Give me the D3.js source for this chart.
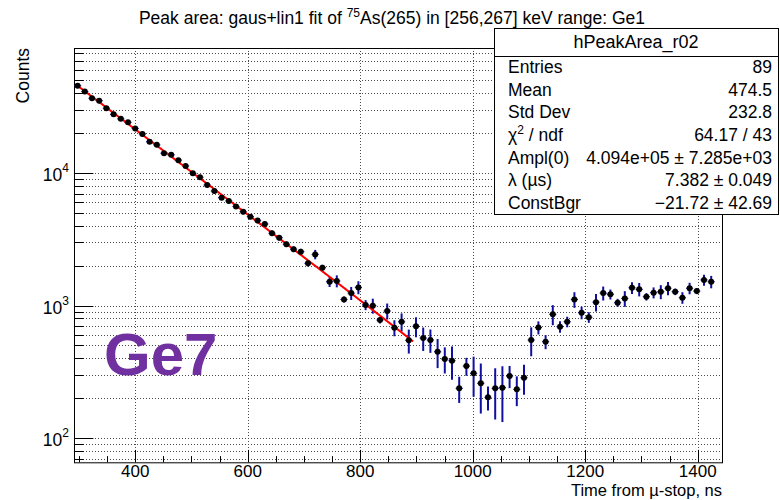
<!DOCTYPE html>
<html>
<head>
<meta charset="utf-8">
<script src="https://cdn.jsdelivr.net/npm/d3@7/dist/d3.min.js"></script>
<style>
  html, body { margin: 0; padding: 0; background: #fff; }
  svg { display: block; font-family: "Liberation Sans", Arial, Helvetica, sans-serif; }
</style>
</head>
<body>
<svg id="chart" width="780" height="500"></svg>
<script>
// Histogram binning (ns)
const binLow = 291.2;
const binWidth = 12.8;
const nBins = 90;

// Peak area per time bin (counts) and its uncertainty
const counts = [
  45600, 41100, 36600, 35100, 30800, 27700, 25600, 24100, 21700, 19700,
  17200, 16300, 14100, 13700, 12500, 11300, 9950, 9280, 8120, 7310,
  6510, 6150, 5590, 5100, 4680, 4370, 4120, 3510, 3250, 2900,
  2660, 2550, 2080, 2430, 1930, 1510, 1530, 1110, 1240, 1370,
  1010, 997, 777, 909, 680, 754, 546, 697, 568, 549,
  448, 395, 383, 237, 349, 308, 259, 203, 237, 240,
  294, 233, 285, 549, 682, 533, 858, 692, 754, 1110,
  883, 815, 1060, 1240, 1215, 1050, 1130, 1360, 1325, 1165,
  1250, 1270, 1350, 1270, 1145, 1350, 1285, 1560, 1510
];
const errors = [
  1140, 1060, 974, 962, 869, 803, 763, 737, 684, 636,
  569, 553, 489, 486, 454, 419, 377, 359, 321, 295,
  268, 258, 239, 222, 208, 198, 190, 164, 155, 140,
  131, 128, 108, 198, 100, 131, 159, 58, 140, 154,
  88, 129, 47, 126, 94, 117, 112, 120, 114, 110,
  111, 88, 108, 53, 54, 103, 106, 42, 99, 108,
  56, 59, 73, 135, 77, 65, 148, 69, 69, 150,
  96, 75, 159, 150, 105, 73, 153, 141, 154, 75,
  119, 154, 157, 72, 115, 134, 67, 149, 162
];

// Fit: Ampl(0) * exp(-lambda * t) + ConstBgr, t in µs
const fitAmpl = 4.094e5;
const fitLambda = 7.382;
const fitConst = -21.72;
const fitRange = [294, 895];

// Axis ticks
const xMajorTicks = [400, 600, 800, 1000, 1200, 1400];
const xMinorTicks = [300, 350, 450, 500, 550, 650, 700, 750, 850, 900, 950, 1050, 1100, 1150, 1250, 1300, 1350];
const yDecades = [100, 1000, 10000];
const yExponents = ["2", "3", "4"];

// Statistics box rows
const statLabels = ["Entries", "Mean", "Std Dev", "χ2 / ndf", "Ampl(0)", "λ (µs)", "ConstBgr"];
const statValues = ["89", "474.5", "232.8", "64.17 / 43", "4.094e+05 ± 7.285e+03", "7.382 ± 0.049", "−21.72 ± 42.69"];

const svg = d3.select("#chart");
const frame = { left: 74, right: 722, top: 48, bottom: 462.3 };
const fs = 17.5;

const x = d3.scaleLinear().domain([binLow, binLow + nBins * binWidth]).range([frame.left, frame.right]);
const y = d3.scaleLog().domain([65.6, 87700]).range([frame.bottom, frame.top]);

// Minor log ticks 1..9 per decade within the visible range
const yAllTicks = [];
[10, 100, 1000, 10000].forEach(d => {
  for (let m = 1; m <= 9; m++) {
    const v = d * m;
    if (v >= y.domain()[0] && v <= y.domain()[1]) yAllTicks.push(v);
  }
});

// Grid
const grid = svg.append("g").attr("stroke", "#000").attr("stroke-width", 1)
  .attr("stroke-dasharray", "1,2").attr("opacity", 0.7);
grid.selectAll("line.h").data(yAllTicks).join("line")
  .attr("x1", frame.left).attr("x2", frame.right)
  .attr("y1", d => Math.round(y(d)) + 0.5).attr("y2", d => Math.round(y(d)) + 0.5);
grid.selectAll("line.v").data(xMajorTicks).join("line")
  .attr("y1", frame.top).attr("y2", frame.bottom)
  .attr("x1", d => Math.round(x(d)) + 0.5).attr("x2", d => Math.round(x(d)) + 0.5);

// Axis ticks (drawn inward)
const ticks = svg.append("g").attr("stroke", "#000").attr("stroke-width", 1);
ticks.selectAll("line.xM").data(xMajorTicks).join("line")
  .attr("x1", d => Math.round(x(d)) + 0.5).attr("x2", d => Math.round(x(d)) + 0.5)
  .attr("y1", frame.bottom).attr("y2", frame.bottom - 12.4);
ticks.selectAll("line.xm").data(xMinorTicks).join("line")
  .attr("x1", d => Math.round(x(d)) + 0.5).attr("x2", d => Math.round(x(d)) + 0.5)
  .attr("y1", frame.bottom).attr("y2", frame.bottom - 6.2);
ticks.selectAll("line.y").data(yAllTicks).join("line")
  .attr("x1", frame.left).attr("x2", d => frame.left + (yDecades.indexOf(d) >= 0 ? 19.4 : 9.7))
  .attr("y1", d => Math.round(y(d)) + 0.5).attr("y2", d => Math.round(y(d)) + 0.5);

// Frame
svg.append("rect")
  .attr("x", frame.left + 0.5).attr("y", frame.top + 0.5)
  .attr("width", frame.right - frame.left).attr("height", frame.bottom - frame.top)
  .attr("fill", "none").attr("stroke", "#000").attr("stroke-width", 1);

// X tick labels
svg.append("g").selectAll("text").data(xMajorTicks).join("text")
  .attr("x", d => x(d)).attr("y", 476.5)
  .attr("text-anchor", "middle").attr("font-size", 17).attr("fill", "#000")
  .text(d => d);

// Y tick labels (10^n)
const yl = svg.append("g").selectAll("text").data(yDecades).join("text")
  .attr("x", 69).attr("y", d => y(d) + 8)
  .attr("text-anchor", "end").attr("font-size", fs).attr("fill", "#000");
yl.append("tspan").text("10");
yl.append("tspan").attr("font-size", 12).attr("dy", -9).text((d, i) => yExponents[i]);

// Axis titles
svg.append("text").attr("x", frame.right).attr("y", 495.5)
  .attr("text-anchor", "end").attr("font-size", 16.5).text("Time from µ-stop, ns");
svg.append("text").attr("transform", `translate(29,${frame.top}) rotate(-90)`)
  .attr("text-anchor", "end").attr("font-size", fs).text("Counts");

// Data: error bars and markers
const pts = counts.map((c, i) => ({ t: binLow + binWidth * (i + 0.5), c, e: errors[i] }));
const eb = svg.append("g").attr("stroke", "#1010a0");
eb.selectAll("line.v").data(pts).join("line")
  .attr("stroke-width", 2)
  .attr("x1", d => x(d.t)).attr("x2", d => x(d.t))
  .attr("y1", d => y(d.c + d.e)).attr("y2", d => y(Math.max(d.c - d.e, 1)));
eb.selectAll("line.h").data(pts).join("line")
  .attr("stroke-width", 1)
  .attr("x1", d => x(d.t - binWidth / 2)).attr("x2", d => x(d.t + binWidth / 2))
  .attr("y1", d => y(d.c)).attr("y2", d => y(d.c));

// Fit curve
const fitPts = d3.range(fitRange[0], fitRange[1] + 0.001, 2).map(t => [t, fitAmpl * Math.exp(-fitLambda * t / 1000) + fitConst]);
svg.append("path").datum(fitPts)
  .attr("fill", "none").attr("stroke", "#ff0000").attr("stroke-width", 2)
  .attr("d", d3.line().x(d => x(d[0])).y(d => y(d[1])));

svg.append("g").selectAll("circle").data(pts).join("circle")
  .attr("cx", d => x(d.t)).attr("cy", d => y(d.c)).attr("r", 3).attr("fill", "#000");

// Detector label
svg.append("text").attr("x", 104).attr("y", 375)
  .attr("font-size", 60).attr("font-weight", "bold").attr("fill", "#7030a0").text("Ge7");

// Title
const title = svg.append("text").attr("x", 392).attr("y", 24)
  .attr("text-anchor", "middle").attr("font-size", fs).attr("fill", "#000");
title.append("tspan").text("Peak area: gaus+lin1 fit of ");
title.append("tspan").attr("font-size", 12).attr("dy", -7).text("75");
title.append("tspan").attr("dy", 7).text("As(265) in [256,267] keV range: Ge1");

// Statistics box
const box = { left: 494, right: 778, top: 28, bottom: 214, headerH: 28 };
const sb = svg.append("g");
sb.append("rect").attr("x", box.left + 0.5).attr("y", box.top + 0.5)
  .attr("width", box.right - box.left).attr("height", box.bottom - box.top)
  .attr("fill", "#fff").attr("stroke", "#000").attr("stroke-width", 1);
sb.append("line").attr("x1", box.left).attr("x2", box.right)
  .attr("y1", box.top + box.headerH + 0.5).attr("y2", box.top + box.headerH + 0.5)
  .attr("stroke", "#000");
sb.append("text").attr("x", (box.left + box.right) / 2).attr("y", box.top + 20)
  .attr("text-anchor", "middle").attr("font-size", 18).text("hPeakArea_r02");
const rowH = (box.bottom - box.top - box.headerH) / statLabels.length;
statLabels.forEach((lab, i) => {
  const yy = box.top + box.headerH + rowH * (i + 0.5) + 6;
  const t = sb.append("text").attr("x", box.left + 14).attr("y", yy).attr("font-size", fs);
  if (lab === "χ2 / ndf") {
    t.append("tspan").text("χ");
    t.append("tspan").attr("font-size", 12).attr("dy", -7).text("2");
    t.append("tspan").attr("dy", 7).text(" / ndf");
  } else {
    t.text(lab);
  }
  sb.append("text").attr("x", box.right - 6).attr("y", yy)
    .attr("text-anchor", "end").attr("font-size", fs).text(statValues[i]);
});
</script>
</body>
</html>
